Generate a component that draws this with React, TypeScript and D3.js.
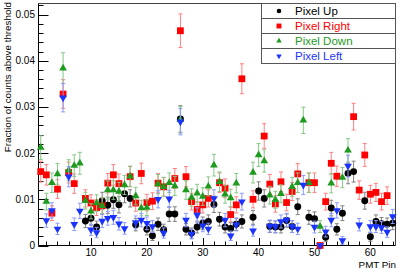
import React from 'react'
import * as d3 from 'd3'

// PMT pins 1..64
const pins = d3.range(1, 65)

const pixelUp = [
  null, null, null, null, null, null, null, null,
  0.0053, 0.0059, 0.0040, 0.0097, 0.0087, 0.0099, 0.0088, 0.0112,
  0.0102, 0.0045, null, 0.0035, 0.0021, 0.0046, 0.0034, 0.0068,
  0.0068, 0.0274, 0.0035, 0.0027, 0.0040, 0.0048, 0.0052, 0.0089,
  0.0057, 0.0040, 0.0037, 0.0046, 0.0052, null, 0.0061, 0.0118,
  0.0102, 0.0041, 0.0040, 0.0040, 0.0054, 0.0041, 0.0084, null,
  0.0061, 0.0058, null, 0.0018, 0.0081, 0.0035, 0.0070, 0.0156,
  0.0160, null, 0.0097, 0.0019, 0.0052, 0.0047, 0.0046, 0.0048,
]

const pixelRight = [
  0.0160, 0.0153, 0.0070, 0.0122, 0.0328, 0.0158, 0.0134, null,
  0.0102, 0.0092, 0.0082, 0.0086, 0.0135, 0.0153, 0.0134, null,
  0.0149, 0.0092, 0.0156, 0.0093, 0.0096, 0.0135, 0.0127, null,
  0.0145, 0.0465, 0.0149, 0.0095, 0.0078, 0.0088, 0.0102, null,
  0.0136, 0.0124, 0.0067, 0.0088, 0.0361, null, 0.0100, null,
  0.0237, 0.0133, 0.0090, 0.0138, 0.0093, 0.0117, 0.0155, null,
  0.0136, 0.0136, 0.0, 0.0095, 0.0178, 0.0150, null, null,
  0.0279, 0.0120, 0.0196, 0.0111, 0.0115, 0.0095, 0.0108, null,
]

const pixelDown = [
  0.0212, 0.0095, 0.0136, 0.0155, 0.0384, 0.0163, 0.0173, 0.0178,
  0.0097, 0.0074, 0.0092, 0.0086, 0.0120, 0.0120, 0.0117, 0.0131,
  0.0150, 0.0107, 0.0081, 0.0082, null, 0.0133, 0.0127, 0.0136,
  0.0129, 0.0272, 0.0120, 0.0104, 0.0113, 0.0106, 0.0128, 0.0174,
  0.0138, 0.0111, 0.0103, 0.0135, null, null, 0.0158, 0.0196,
  0.0183, 0.0109, 0.0099, 0.0112, null, 0.0127, 0.0136, 0.0271,
  0.0136, null, 0.0041, null, 0.0135, null, 0.0147, 0.0206,
  null, null, null, null, null, null, null, null,
]

const pixelLeft = [
  null, 0.0054, 0.0076, 0.0036, 0.0320, 0.0149, 0.0046, 0.0075,
  null, 0.0034, 0.0028, 0.0053, 0.0059, 0.0061, 0.0047, 0.0037,
  null, 0.0050, 0.0055, 0.0048, 0.0041, 0.0100, 0.0027, 0.0101,
  null, 0.0268, 0.0055, 0.0025, 0.0066, 0.0043, 0.0036, 0.0102,
  null, 0.0055, 0.0021, 0.0045, 0.0095, null, 0.0032, null,
  null, 0.0042, 0.0041, 0.0052, 0.0055, 0.0041, 0.0036, 0.0131,
  null, 0.0040, 0.0, 0.0030, 0.0055, 0.0076, 0.0011, 0.0172,
  null, 0.0045, null, 0.0041, 0.0041, 0.0039, 0.0029, 0.0063,
]

const yTicks = [0, 0.01, 0.02, 0.03, 0.04, 0.05]
const xTicks = [10, 20, 30, 40, 50, 60]

const series = [
  { name: 'Pixel Up', values: pixelUp, color: '#000000', bar: '#808080', symbol: d3.symbolCircle, size: 38, legSize: 17, rot: 0 },
  { name: 'Pixel Right', values: pixelRight, color: '#ff0000', bar: '#ff8080', symbol: d3.symbolSquare, size: 46, legSize: 24, rot: 0 },
  { name: 'Pixel Down', values: pixelDown, color: '#1e9a1e', bar: '#86c886', symbol: d3.symbolTriangle, size: 26, legSize: 13, rot: 0 },
  { name: 'Pixel Left', values: pixelLeft, color: '#1a33ff', bar: '#8c99ff', symbol: d3.symbolTriangle, size: 26, legSize: 13, rot: 180 },
]

// statistical uncertainty on a counting fraction
const err = (v: number) => 0.0155 * Math.sqrt(v) + 0.0003

const font = 'Liberation Sans, Arial, Helvetica, sans-serif'

export default function App() {
  const left = 38.5, right = 395.5, top = 3.5, bottom = 245.5
  const x = d3.scaleLinear().domain([0.6, 64.5]).range([left, right])
  const y = d3.scaleLinear().domain([0, 0.0524]).range([bottom, top])

  const yMinor = d3.range(0, 0.0524, 0.002)
  const xMinor = d3.range(2, 65, 2)

  const legX = 261.5, legW = right - 261.5, rowH = 15

  return (
    <svg width={399} height={269} style={{ position: 'absolute', left: 0, top: 0, background: '#fff' }}
      fontFamily={font}>
      <rect x={0} y={0} width={399} height={269} fill="#fff" />

      {/* frame */}
      <line x1={left} x2={right} y1={top} y2={top} stroke="#444" />
      <line x1={right} x2={right} y1={top} y2={bottom} stroke="#444" />

      {/* y axis */}
      <line x1={left} x2={left} y1={top} y2={bottom} stroke="#000" />
      {yMinor.map((t, i) => (
        <line key={'ym' + i} x1={left} x2={left + 5} y1={Math.round(y(t)) + 0.5} y2={Math.round(y(t)) + 0.5} stroke="#000" />
      ))}
      {yTicks.map(t => (
        <g key={'y' + t}>
          <line x1={left} x2={left + 10} y1={Math.round(y(t)) + 0.5} y2={Math.round(y(t)) + 0.5} stroke="#000" />
          <text x={35} y={y(t)} dy="0.35em" textAnchor="end" fontSize={10}>
            {t === 0 ? '0' : d3.format('.2f')(t)}
          </text>
        </g>
      ))}
      <text transform="translate(11,2) rotate(-90)" textAnchor="end" fontSize={9.8}>
        Fraction of counts above threshold
      </text>

      {/* x axis */}
      <line x1={left} x2={right} y1={bottom} y2={bottom} stroke="#000" />
      {xMinor.map(t => (
        <line key={'xm' + t} x1={Math.round(x(t)) + 0.5} x2={Math.round(x(t)) + 0.5} y1={bottom} y2={bottom - 4} stroke="#000" />
      ))}
      {xTicks.map(t => (
        <g key={'x' + t}>
          <line x1={Math.round(x(t)) + 0.5} x2={Math.round(x(t)) + 0.5} y1={bottom} y2={bottom - 7.5} stroke="#000" />
          <text x={x(t)} y={255.5} textAnchor="middle" fontSize={10}>{t}</text>
        </g>
      ))}
      <text x={396} y={267.5} textAnchor="end" fontSize={9.8}>PMT Pin</text>

      {/* data */}
      {series.map(s => (
        <g key={s.name}>
          {s.values.map((v, i) => {
            if (v == null) return null
            const px = x(pins[i])
            const e = err(v)
            const y0 = y(Math.max(0, v - e)), y1 = y(v + e)
            return (
              <g key={i}>
                <line x1={px} x2={px} y1={y0} y2={y1} stroke={s.bar} strokeWidth={1} />
                <line x1={px - 2} x2={px + 2} y1={y0} y2={y0} stroke={s.bar} strokeWidth={1} />
                <line x1={px - 2} x2={px + 2} y1={y1} y2={y1} stroke={s.bar} strokeWidth={1} />
              </g>
            )
          })}
          {s.values.map((v, i) => {
            if (v == null) return null
            const path = d3.symbol().type(s.symbol).size(s.size)() || ''
            return (
              <path key={'m' + i} d={path} fill={s.color}
                transform={`translate(${x(pins[i])},${y(v)}) rotate(${s.rot})`} />
            )
          })}
        </g>
      ))}

      {/* legend */}
      <rect x={legX} y={top} width={legW} height={rowH * 4} fill="#fff" stroke="#555" />
      {series.map((s, i) => {
        const cy = top + rowH * i + rowH / 2
        const path = d3.symbol().type(s.symbol).size(s.legSize)() || ''
        return (
          <g key={'leg' + i}>
            {i > 0 && <line x1={legX} x2={right} y1={top + rowH * i} y2={top + rowH * i} stroke="#555" />}
            <path d={path} fill={s.color} transform={`translate(279,${cy}) rotate(${s.rot})`} />
            <text x={295} y={cy + 4} fontSize={11.5} fill={s.color}>{s.name}</text>
          </g>
        )
      })}
    </svg>
  )
}
